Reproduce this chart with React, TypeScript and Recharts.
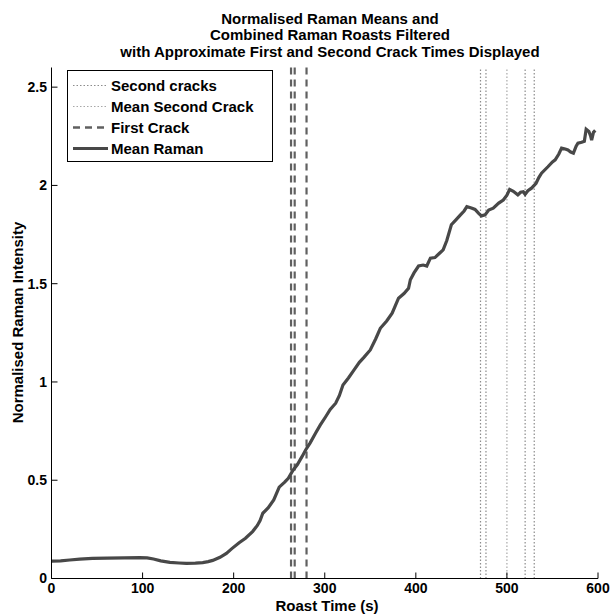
import React from 'react';
import { LineChart, Line, XAxis, YAxis, ReferenceLine, Customized } from 'recharts';

const roastTime = [
  0, 10, 20, 31, 45, 61, 80, 97, 105, 112, 120, 130, 140, 148, 158, 166, 172, 177, 185, 192,
  198, 206, 213, 221, 226, 229, 232, 238, 244, 250, 256, 260, 265, 270, 275, 279, 284, 290, 295, 301,
  306, 312, 316, 320, 326, 332, 338, 343, 350, 356, 361, 368, 374, 381, 387, 392, 394, 398, 403, 408,
  412, 416, 421, 426, 430, 434, 439, 444, 449, 453, 456, 461, 465, 469, 472, 476, 480, 485, 491, 496,
  500, 503, 507, 512, 515, 518, 520, 523, 527, 532, 535, 538, 545, 550, 553, 557, 560, 564, 567, 570,
  573, 576, 578, 582, 585, 587, 590, 592, 593, 595, 597,
];
const meanRaman = [
  0.088, 0.09, 0.094, 0.099, 0.102, 0.104, 0.105, 0.106, 0.105, 0.099, 0.09, 0.082, 0.079, 0.077, 0.078, 0.081, 0.086, 0.092, 0.108, 0.128,
  0.152, 0.182, 0.205, 0.24, 0.27, 0.295, 0.332, 0.36, 0.4, 0.465, 0.49, 0.51, 0.55, 0.58, 0.62, 0.654, 0.69, 0.74, 0.78, 0.823,
  0.86, 0.892, 0.93, 0.985, 1.02, 1.06, 1.1, 1.125, 1.163, 1.22, 1.273, 1.31, 1.35, 1.426, 1.45, 1.477, 1.52, 1.555, 1.59, 1.595,
  1.59, 1.63, 1.633, 1.655, 1.672, 1.72, 1.8, 1.825, 1.85, 1.87, 1.892, 1.885, 1.878, 1.858, 1.845, 1.85, 1.875, 1.884, 1.91, 1.926,
  1.95, 1.98, 1.97, 1.952, 1.965, 1.968, 1.955, 1.973, 1.986, 2.011, 2.04, 2.062, 2.095, 2.12, 2.13, 2.16, 2.19, 2.185, 2.18, 2.17,
  2.164, 2.2, 2.215, 2.22, 2.225, 2.286, 2.275, 2.25, 2.23, 2.27, 2.28,
];
const firstCrackTimes = [263, 267, 280];
const secondCrackTimes = [471, 477, 520, 530];
const meanSecondCrack = 500;
const xTicks = [0, 100, 200, 300, 400, 500, 600];
const yTicks = [0, 0.5, 1, 1.5, 2, 2.5];
const titleLines = [
  'Normalised Raman Means and',
  'Combined Raman Roasts Filtered',
  'with Approximate First and Second Crack Times Displayed',
];
const xLabel = 'Roast Time (s)';
const yLabel = 'Normalised Raman Intensity';
const legendLabels = ['Second cracks', 'Mean Second Crack', 'First Crack', 'Mean Raman'];

const data = roastTime.map((t, i) => ({ t, v: meanRaman[i] }));

const FONT = '"Liberation Sans", Arial, Helvetica, sans-serif';
const LINE_COLOR = '#484848';
const DASH_COLOR = '#606060';
const DOT_COLOR = '#8c8c8c';
const MEAN_DOT_COLOR = '#a8a8a8';

const tickStyle = { fill: '#000', fontSize: 14, fontWeight: 'bold', fontFamily: FONT };

const Decorations = () => {
  const legendStyles = [
    { stroke: DOT_COLOR, dash: '1.5 2', w: 1.2 },
    { stroke: MEAN_DOT_COLOR, dash: '1.5 2', w: 1.2 },
    { stroke: DASH_COLOR, dash: '7 5', w: 2.5 },
    { stroke: LINE_COLOR, dash: undefined, w: 3.2 },
  ];
  return (
    <g fontFamily={FONT} fontWeight="bold" fill="#000">
      {titleLines.map((line, i) => (
        <text key={i} x={330} y={23.5 + i * 16.6} textAnchor="middle" fontSize={15}>
          {line}
        </text>
      ))}
      <text x={327} y={611} textAnchor="middle" fontSize={15}>
        {xLabel}
      </text>
      <text x={23} y={322.5} textAnchor="middle" fontSize={15} transform="rotate(-90 23 322.5)">
        {yLabel}
      </text>
      <rect x={67.5} y={70.5} width={205} height={91} fill="#fff" stroke="#000" strokeWidth={1} />
      {legendLabels.map((label, i) => {
        const cy = 85.5 + i * 21;
        const s = legendStyles[i];
        return (
          <g key={label}>
            <line x1={73} x2={108} y1={cy} y2={cy} stroke={s.stroke} strokeWidth={s.w} strokeDasharray={s.dash} />
            <text x={111} y={cy + 5.3} fontSize={15}>
              {label}
            </text>
          </g>
        );
      })}
    </g>
  );
};

export default function App() {
  return (
    <div style={{ position: 'absolute', left: 0, top: 0, width: 613, height: 616, background: '#fff' }}>
      <LineChart
        width={613}
        height={616}
        data={data}
        margin={{ top: 67.5, right: 15, left: 0, bottom: 0 }}
      >
        <XAxis
          dataKey="t"
          type="number"
          domain={[0, 600]}
          ticks={xTicks}
          height={37.5}
          tickSize={-6}
          tickMargin={10.5}
          tick={tickStyle}
          axisLine={{ stroke: '#000', strokeWidth: 1 }}
          tickLine={{ stroke: '#000', strokeWidth: 1 }}
          allowDataOverflow
        />
        <YAxis
          type="number"
          domain={[0, 2.6]}
          ticks={yTicks}
          width={51.5}
          tickSize={-6}
          tickMargin={10.5}
          tick={tickStyle}
          tickFormatter={(v: number) => String(v)}
          axisLine={{ stroke: '#000', strokeWidth: 1 }}
          tickLine={{ stroke: '#000', strokeWidth: 1 }}
          allowDataOverflow
        />
        {secondCrackTimes.map((t) => (
          <ReferenceLine key={'s' + t} x={t} stroke={DOT_COLOR} strokeWidth={1.2} strokeDasharray="1.5 2" />
        ))}
        <ReferenceLine x={meanSecondCrack} stroke={MEAN_DOT_COLOR} strokeWidth={1.2} strokeDasharray="1.5 2" />
        {firstCrackTimes.map((t) => (
          <ReferenceLine key={'f' + t} x={t} stroke={DASH_COLOR} strokeWidth={2.2} strokeDasharray="7 5" />
        ))}
        <Line
          type="linear"
          dataKey="v"
          stroke={LINE_COLOR}
          strokeWidth={3.2}
          dot={false}
          isAnimationActive={false}
        />
        <Customized component={Decorations} />
      </LineChart>
    </div>
  );
}
